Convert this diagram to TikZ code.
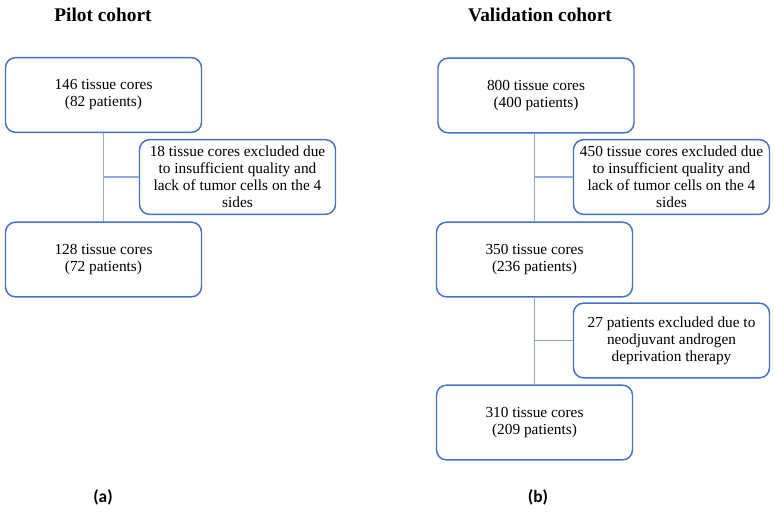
\documentclass[tikz,border=0pt]{standalone}
\usepackage{fontspec}
\setmainfont{Liberation Serif}
\newfontfamily\capfont{Carlito}
\definecolor{boxblue}{RGB}{68,114,196}
\definecolor{lineblue}{RGB}{143,170,220}

\tikzset{every picture/.style={line width=0.75pt}}
\tikzset{
  cohortbox/.style={draw=boxblue, line width=1.1pt, rounded corners=7.5pt, inner xsep=2pt, minimum width=147pt, minimum height=56pt, align=center, font=\fontsize{11.5}{12.8}\selectfont},
  linkline/.style={draw=lineblue, line width=0.9pt},
  cohorttitle/.style={font=\fontsize{14.5}{16}\selectfont\bfseries},
  panellabel/.style={font=\capfont\fontsize{13}{15}\selectfont\bfseries}
}

\begin{document}
\begin{tikzpicture}[x=0.75pt,y=0.75pt,yscale=-1,xscale=1]
\path[use as bounding box] (0,0) rectangle (774,511);

% Pilot cohort
\node[cohorttitle] (ptitle) at (103,15) {Pilot cohort};
% Text Node
\node[cohortbox] (pall) at (103.5,95) {146 tissue cores\\(82 patients)};
% Text Node
\node[cohortbox] (pexcl) at (237.5,177) {18 tissue cores excluded due\\to insufficient quality and\\lack of tumor cells on the 4\\sides};
% Text Node
\node[cohortbox] (pkept) at (103.5,259.5) {128 tissue cores\\(72 patients)};

\draw[linkline] (pall.south) -- (pkept.north);
\draw[linkline] (pexcl.west) -- (pexcl.west -| pall.south);

% Validation cohort
\node[cohorttitle] (vtitle) at (540,15) {Validation cohort};
% Text Node
\node[cohortbox] (vall) at (536,95.5) {800 tissue cores\\(400 patients)};
% Text Node
\node[cohortbox] (vexcl) at (671.5,177) {450 tissue cores excluded due\\to insufficient quality and\\lack of tumor cells on the 4\\sides};
% Text Node
\node[cohortbox] (vmid) at (534.5,259.5) {350 tissue cores\\(236 patients)};
% Text Node
\node[cohortbox] (vadt) at (671.5,340.5) {27 patients excluded due to\\neodjuvant androgen\\deprivation therapy};
% Text Node
\node[cohortbox] (vkept) at (534.5,422.5) {310 tissue cores\\(209 patients)};

\draw[linkline] (vall.south -| vmid.north) -- (vmid.north);
\draw[linkline] (vexcl.west) -- (vexcl.west -| vmid.north);
\draw[linkline] (vmid.south) -- (vkept.north);
\draw[linkline] (vadt.west) -- (vadt.west -| vmid.south);

% Panel labels
\node[panellabel] (alabel) at (103,497) {(a)};
\node[panellabel] (blabel) at (538,497) {(b)};

\end{tikzpicture}
\end{document}
